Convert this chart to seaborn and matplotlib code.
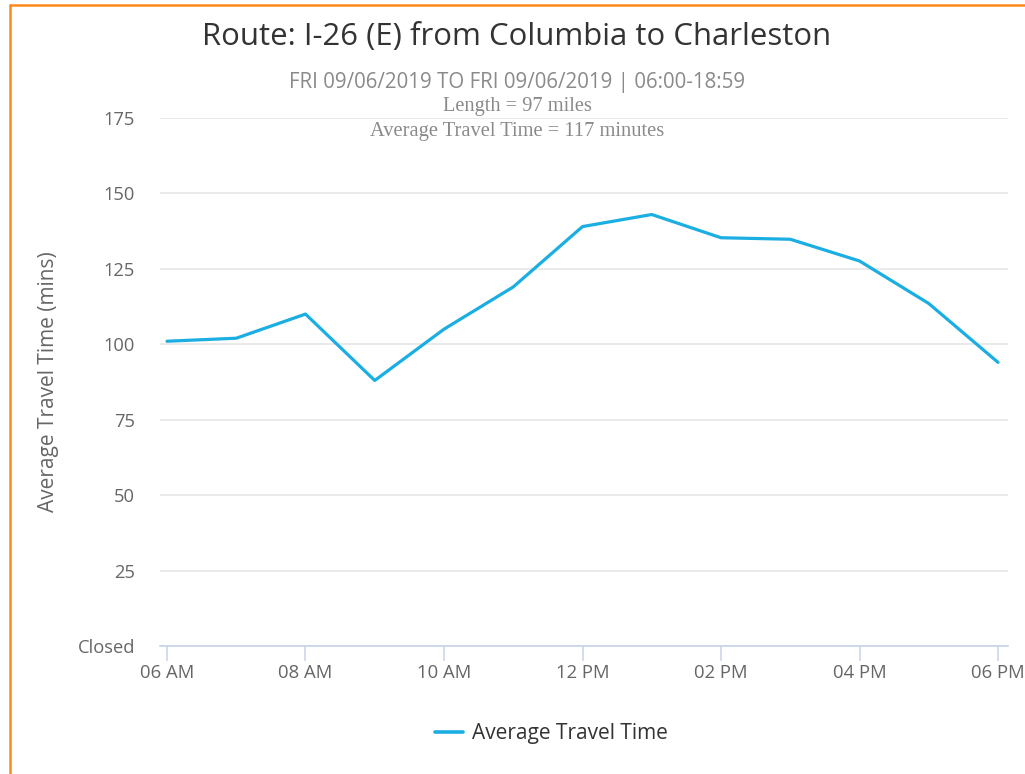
import matplotlib
matplotlib.use("Agg")
import matplotlib.pyplot as plt
import seaborn as sns
import pandas as pd
from matplotlib.lines import Line2D

hours = [6, 7, 8, 9, 10, 11, 12, 13, 14, 15, 16, 17, 18]
travel_time = [101, 102, 110, 88, 105, 119, 139, 143, 135.3, 134.8, 127.6, 113.5, 94]
xtick_pos = [6, 8, 10, 12, 14, 16, 18]
xtick_labels = ["06 AM", "08 AM", "10 AM", "12 PM", "02 PM", "04 PM", "06 PM"]
ytick_pos = [0, 25, 50, 75, 100, 125, 150, 175]
ytick_labels = ["Closed", "25", "50", "75", "100", "125", "150", "175"]
series_name = "Average Travel Time"

df = pd.DataFrame({"hour": hours, "value": travel_time, "series": series_name})

sns.set_theme(style="white")
plt.rcParams["font.family"] = ["Open Sans", "DejaVu Sans"]

fig = plt.figure(figsize=(10.25, 7.74), dpi=100)
ax = fig.add_axes([0.1561, 0.1654, 0.8273, 0.6822])

line_color = "#1aaee2"
sns.lineplot(data=df, x="hour", y="value", ax=ax, color=line_color, linewidth=2.3,
             legend=False)

ax.set_xlim(5.899, 18.144)
ax.set_ylim(0, 175)
ax.set_xticks(xtick_pos)
ax.set_xticklabels(xtick_labels)
ax.set_yticks(ytick_pos)
ax.set_yticklabels(ytick_labels)
ax.grid(axis="y", color="#e6e6e6", linewidth=1.2)
ax.grid(axis="x", visible=False)
for s in ["left", "right", "top"]:
    ax.spines[s].set_visible(False)
ax.spines["bottom"].set_color("#ccd6eb")
ax.spines["bottom"].set_linewidth(1.3)
ax.tick_params(axis="x", colors="#ccd6eb", length=11, width=1.2, pad=2,
               labelcolor="#666666", labelsize=13.3, bottom=True)
ax.tick_params(axis="y", length=0, pad=18, labelcolor="#666666", labelsize=13.2)
ax.set_xlabel("")
ax.set_ylabel("Average Travel Time (mins)", color="#666666", fontsize=15)
ax.yaxis.set_label_coords(-0.119, 0.5)

fig.text(0.504, 0.952, "Route: I-26 (E) from Columbia to Charleston", ha="center",
         va="center", fontsize=22.4, color="#333333")
fig.text(0.504, 0.894, "FRI 09/06/2019 TO FRI 09/06/2019 | 06:00-18:59", ha="center",
         va="center", fontsize=14.8, color="#8a8a8a")
fig.text(0.505, 0.8625, "Length = 97 miles", ha="center", va="center", fontsize=14.7,
         color="#8a8a8a", family=["Liberation Serif", "DejaVu Serif"])
fig.text(0.505, 0.830, "Average Travel Time = 117 minutes", ha="center", va="center",
         fontsize=14.8, color="#8a8a8a", family=["Liberation Serif", "DejaVu Serif"])

handle = Line2D([0], [0], color=line_color, linewidth=2.6)
fig.legend([handle], [series_name], loc="center", bbox_to_anchor=(0.538, 0.052),
           frameon=False, fontsize=15, labelcolor="#333333", handlelength=1.35,
           handletextpad=0.45)

orange = "#ff8a1c"
fig.add_artist(Line2D([10 / 1025, 1.0], [1 - 5 / 774, 1 - 5 / 774], color=orange,
                      linewidth=1.8, transform=fig.transFigure))
fig.add_artist(Line2D([10 / 1025, 10 / 1025], [0, 1 - 5 / 774], color=orange,
                      linewidth=1.8, transform=fig.transFigure))

fig.savefig("out.png", dpi=100, facecolor="white")
